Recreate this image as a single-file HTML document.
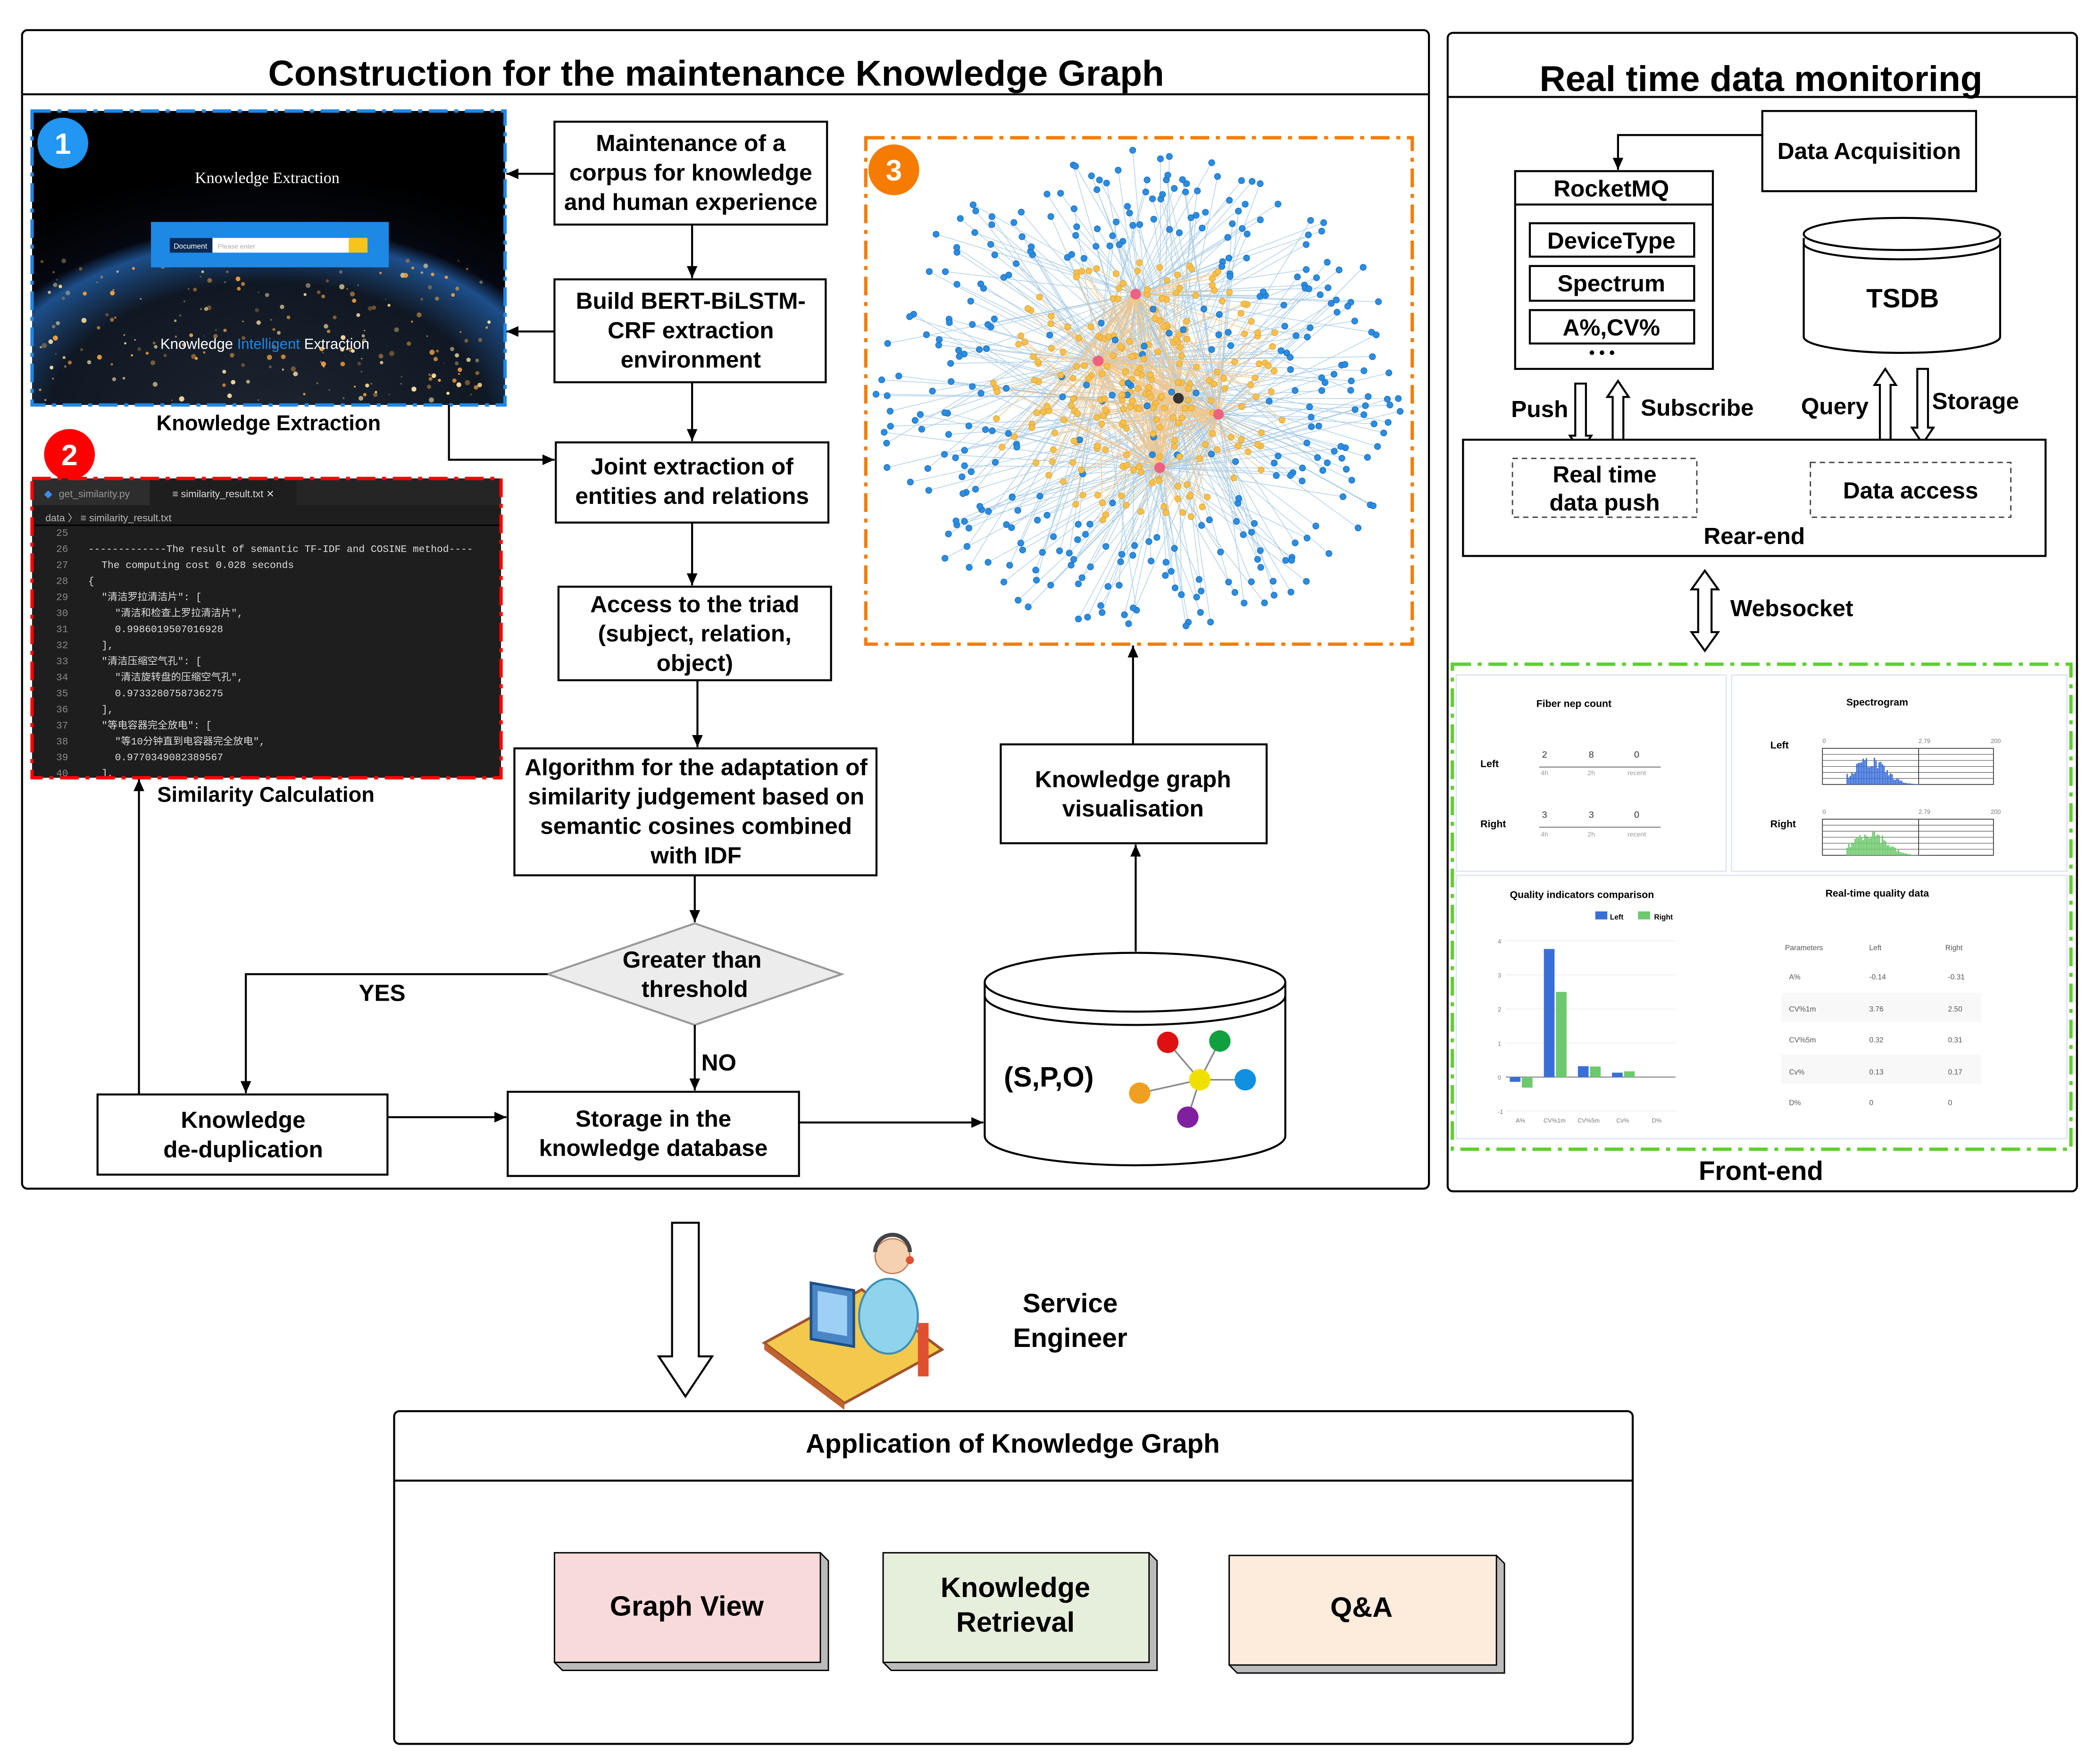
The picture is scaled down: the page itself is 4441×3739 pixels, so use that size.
<!DOCTYPE html>
<html><head><meta charset="utf-8"><style>
html,body{margin:0;padding:0;background:#fff}
svg{display:block}
text{font-family:"Liberation Sans",Arial,sans-serif}
.b{font-weight:bold}
.mono text{font-family:"Liberation Mono","Noto Sans CJK SC",monospace}
</style></head><body>
<svg id="s" xmlns="http://www.w3.org/2000/svg" width="4441" height="3739" viewBox="0 0 1568 1320">
<defs>
<marker id="ar" markerWidth="10" markerHeight="10" refX="9" refY="5" orient="auto" markerUnits="userSpaceOnUse"><path d="M0,1 L9,5 L0,9 Z" fill="#000"/></marker>
<radialGradient id="earth" cx="50%" cy="105%" r="85%"><stop offset="0" stop-color="#1c2430"/><stop offset="0.55" stop-color="#101824"/><stop offset="0.72" stop-color="#1d4f8a"/><stop offset="0.78" stop-color="#050810"/><stop offset="1" stop-color="#000"/></radialGradient>
</defs>
<rect width="1568" height="1320" fill="#fff"/>

<rect x="16.5" y="22.5" width="1053" height="867" rx="4" fill="none" stroke="#000" stroke-width="1.5"/>
<line x1="17" y1="70.5" x2="1069" y2="70.5" stroke="#000" stroke-width="1.5"/>
<text x="536" y="64" text-anchor="middle" class="b" font-size="27">Construction for the maintenance Knowledge Graph</text>

<rect x="1083.5" y="24.5" width="471" height="867" rx="4" fill="none" stroke="#000" stroke-width="1.5"/>
<line x1="1084" y1="72.5" x2="1554" y2="72.5" stroke="#000" stroke-width="1.5"/>
<text x="1318" y="68" text-anchor="middle" class="b" font-size="27">Real time data monitoring</text>

<rect x="24" y="83" width="354" height="220" fill="url(#earth)"/>
<g id="lights"></g>
<rect x="24" y="83" width="354" height="220" fill="none" stroke="#1e88e5" stroke-width="2.5" stroke-dasharray="14,5,3,5"/>
<text x="200" y="137" text-anchor="middle" fill="#fff" font-size="12" font-family="Liberation Serif,serif" style="font-family:'Liberation Serif',serif">Knowledge  Extraction</text>
<rect x="113" y="166" width="178" height="34" fill="#1e88e5"/>
<rect x="127" y="178" width="148" height="11" fill="#fff"/>
<rect x="127" y="178" width="32" height="11" fill="#0a2a55"/>
<text x="130" y="186" fill="#fff" font-size="5.5">Document</text>
<text x="163" y="186" fill="#aaa" font-size="5">Please enter</text>
<rect x="261" y="178" width="14" height="11" fill="#f5c518"/>
<text x="120" y="261" fill="#fff" font-size="11">Knowledge <tspan fill="#1e88e5">Intelligent</tspan> Extraction</text>
<circle cx="47" cy="107" r="19" fill="#2196f3"/>
<text x="47" y="115" text-anchor="middle" fill="#fff" font-size="22" class="b">1</text>
<text x="201" y="322" text-anchor="middle" class="b" font-size="16">Knowledge Extraction</text>

<circle cx="52" cy="340" r="19" fill="#f00"/>
<text x="52" y="348" text-anchor="middle" fill="#fff" font-size="22" class="b">2</text>
<rect x="24" y="358" width="351" height="224" fill="#1e1e1e"/>
<rect x="24" y="358" width="351" height="20" fill="#252526"/>
<rect x="24" y="358" width="88" height="20" fill="#2d2d2d"/>
<rect x="112" y="358" width="110" height="20" fill="#1e1e1e"/>
<text x="44" y="372" fill="#999" font-size="7.5">get_similarity.py</text>
<text x="33" y="372" fill="#3b8eea" font-size="8">◆</text>
<text x="129" y="372" fill="#ddd" font-size="7.5">≡ similarity_result.txt  ✕</text>
<text x="34" y="390" fill="#bbb" font-size="7.5">data 〉 ≡ similarity_result.txt</text>
<line x1="24" y1="393" x2="375" y2="393" stroke="#000" stroke-width="1"/>
<g class="mono" font-size="7.5" fill="#ddd">
<text x="42" y="401" fill="#888">25</text>
<text x="42" y="413" fill="#888">26</text><text x="66" y="413">-------------The result of semantic TF-IDF and COSINE method----</text>
<text x="42" y="425" fill="#888">27</text><text x="76" y="425">The computing cost 0.028 seconds</text>
<text x="42" y="437" fill="#888">28</text><text x="66" y="437">{</text>
<text x="42" y="449" fill="#888">29</text><text x="76" y="449">"清洁罗拉清洁片": [</text>
<text x="42" y="461" fill="#888">30</text><text x="86" y="461">"清洁和检查上罗拉清洁片",</text>
<text x="42" y="473" fill="#888">31</text><text x="86" y="473">0.9986019507016928</text>
<text x="42" y="485" fill="#888">32</text><text x="76" y="485">],</text>
<text x="42" y="497" fill="#888">33</text><text x="76" y="497">"清洁压缩空气孔": [</text>
<text x="42" y="509" fill="#888">34</text><text x="86" y="509">"清洁旋转盘的压缩空气孔",</text>
<text x="42" y="521" fill="#888">35</text><text x="86" y="521">0.9733280758736275</text>
<text x="42" y="533" fill="#888">36</text><text x="76" y="533">],</text>
<text x="42" y="545" fill="#888">37</text><text x="76" y="545">"等电容器完全放电": [</text>
<text x="42" y="557" fill="#888">38</text><text x="86" y="557">"等10分钟直到电容器完全放电",</text>
<text x="42" y="569" fill="#888">39</text><text x="86" y="569">0.9770349082389567</text>
<text x="42" y="581" fill="#888">40</text><text x="76" y="581">],</text>
</g>
<rect x="24" y="358" width="351" height="224" fill="none" stroke="#f00" stroke-width="2.5" stroke-dasharray="14,5,3,5"/>
<text x="199" y="600" text-anchor="middle" class="b" font-size="16">Similarity Calculation</text>

<g fill="#fff" stroke="#000" stroke-width="1.5">
<rect x="415" y="91" width="204" height="77"/>
<rect x="415" y="209" width="203" height="77"/>
<rect x="416" y="331" width="204" height="60"/>
<rect x="418" y="439" width="204" height="70"/>
<rect x="385" y="560" width="271" height="95"/>
<polygon points="410,729 520,691 630,729 520,767" fill="#ececec" stroke="#999"/>
<rect x="73" y="819" width="217" height="60"/>
<rect x="380" y="817" width="218" height="63"/>
<rect x="749" y="557" width="199" height="74"/>
</g>
<g class="b" font-size="17.5" text-anchor="middle">
<text x="517" y="113">Maintenance of a</text><text x="517" y="135">corpus for knowledge</text><text x="517" y="157">and human experience</text>
<text x="517" y="231">Build BERT-BiLSTM-</text><text x="517" y="253">CRF extraction</text><text x="517" y="275">environment</text>
<text x="518" y="355">Joint extraction of</text><text x="518" y="377">entities and relations</text>
<text x="520" y="458">Access to the triad</text><text x="520" y="480">(subject, relation,</text><text x="520" y="502">object)</text>
<text x="521" y="580">Algorithm for the adaptation of</text><text x="521" y="602">similarity judgement based on</text><text x="521" y="624">semantic cosines combined</text><text x="521" y="646">with IDF</text>
<text x="518" y="724">Greater than</text><text x="520" y="746">threshold</text>
<text x="182" y="844">Knowledge</text><text x="182" y="866">de-duplication</text>
<text x="489" y="843">Storage in the</text><text x="489" y="865">knowledge database</text>
<text x="848" y="589">Knowledge graph</text><text x="848" y="611">visualisation</text>
<text x="286" y="749">YES</text>
<text x="538" y="801">NO</text>
</g>

<g stroke="#000" stroke-width="1.5" fill="none" marker-end="url(#ar)">
<path d="M415,130 H379"/>
<path d="M415,248 H379"/>
<path d="M336,303 V344 H415"/>
<path d="M518,168 V208"/>
<path d="M518,286 V330"/>
<path d="M518,391 V438"/>
<path d="M522,509 V559"/>
<path d="M520,655 V690"/>
<path d="M410,729 H184 V818"/>
<path d="M520,767 V816"/>
<path d="M290,836 H379"/>
<path d="M598,840 L736,840"/>
<path d="M104,819 V583"/>
<path d="M850,712 V632"/>
<path d="M848,557 V483"/>
<path d="M1319,101 H1211 V127"/>
</g>

<path d="M737,735 V850 A112.5,22 0 0,0 962,850 V735" fill="#fff" stroke="#000" stroke-width="1.5"/>
<ellipse cx="849.5" cy="735" rx="112.5" ry="22" fill="#fff" stroke="#000" stroke-width="1.5"/>
<path d="M737,745 A112.5,22 0 0,0 962,745" fill="none" stroke="#000" stroke-width="1.5"/>
<text x="785" y="813" text-anchor="middle" class="b" font-size="21">(S,P,O)</text>
<g stroke="#888" stroke-width="1.2">
<line x1="874" y1="780" x2="898" y2="808"/><line x1="913" y1="779" x2="898" y2="808"/><line x1="932" y1="808" x2="898" y2="808"/><line x1="853" y1="818" x2="898" y2="808"/><line x1="889" y1="836" x2="898" y2="808"/>
</g>
<circle cx="874" cy="780" r="8" fill="#e01010"/><circle cx="913" cy="779" r="8" fill="#10a040"/><circle cx="898" cy="808" r="8" fill="#f0e000"/><circle cx="932" cy="808" r="8" fill="#1090e0"/><circle cx="853" cy="818" r="8" fill="#f0a020"/><circle cx="889" cy="836" r="8" fill="#8020a0"/>

<g id="graph"></g>
<rect x="648" y="103" width="409" height="379" fill="none" stroke="#f57c00" stroke-width="2.5" stroke-dasharray="14,5,3,5"/>
<circle cx="669" cy="127" r="19" fill="#f57c00"/>
<text x="669" y="135" text-anchor="middle" fill="#fff" font-size="22" class="b">3</text>

<rect x="1319" y="83" width="160" height="60" fill="#fff" stroke="#000" stroke-width="1.5"/>
<text x="1399" y="119" text-anchor="middle" class="b" font-size="17.5">Data Acquisition</text>
<rect x="1134" y="128" width="148" height="148" fill="#fff" stroke="#000" stroke-width="1.5"/>
<line x1="1134" y1="153" x2="1282" y2="153" stroke="#000" stroke-width="1.5"/>
<text x="1206" y="147" text-anchor="middle" class="b" font-size="17.5">RocketMQ</text>
<g fill="#fff" stroke="#000" stroke-width="1.5"><rect x="1145" y="167" width="123" height="25"/><rect x="1145" y="199" width="123" height="26"/><rect x="1145" y="232" width="123" height="25"/></g>
<g class="b" font-size="17.5" text-anchor="middle"><text x="1206" y="186">DeviceType</text><text x="1206" y="218">Spectrum</text><text x="1206" y="251">A%,CV%</text></g>
<text x="1199" y="268" text-anchor="middle" font-size="12" class="b">• • •</text>
<path d="M1350,178 V252 A73.5,12 0 0,0 1497,252 V178" fill="#fff" stroke="#000" stroke-width="1.5"/>
<ellipse cx="1423.5" cy="175" rx="73.5" ry="12" fill="#fff" stroke="#000" stroke-width="1.5"/>
<path d="M1350,182 A73.5,12 0 0,0 1497,182" fill="none" stroke="#000" stroke-width="1.5"/>
<text x="1424" y="230" text-anchor="middle" class="b" font-size="20">TSDB</text>
<g id="harrows" fill="#fff" stroke="#000" stroke-width="1.5"></g>
<g class="b" font-size="17.5"><text x="1131" y="312">Push</text><text x="1228" y="311">Subscribe</text><text x="1348" y="310">Query</text><text x="1446" y="306">Storage</text><text x="1295" y="461">Websocket</text></g>
<rect x="1095" y="329" width="436" height="87" fill="#fff" stroke="#000" stroke-width="1.5"/>
<rect x="1132" y="343" width="138" height="44" fill="none" stroke="#444" stroke-width="1" stroke-dasharray="4,3"/>
<rect x="1355" y="346" width="150" height="41" fill="none" stroke="#444" stroke-width="1" stroke-dasharray="4,3"/>
<g class="b" font-size="17.5" text-anchor="middle"><text x="1201" y="361">Real time</text><text x="1201" y="382">data push</text><text x="1430" y="373">Data access</text><text x="1313" y="407">Rear-end</text><text x="1318" y="883" font-size="20">Front-end</text></g>

<rect x="1087" y="497" width="463" height="363" fill="#fff" stroke="#5fcf2f" stroke-width="2.5" stroke-dasharray="14,5,3,5"/>
<g fill="#fff" stroke="#dde6f2" stroke-width="1"><rect x="1090" y="505" width="202" height="147"/><rect x="1296" y="505" width="251" height="147"/><rect x="1090" y="655" width="457" height="197"/></g>
<g font-size="7.5" class="b" text-anchor="middle"><text x="1178" y="529">Fiber nep count</text><text x="1405" y="528">Spectrogram</text><text x="1184" y="672">Quality indicators comparison</text><text x="1405" y="671">Real-time quality data</text></g>
<g font-size="7.5" class="b"><text x="1108" y="574">Left</text><text x="1108" y="619">Right</text><text x="1325" y="560">Left</text><text x="1325" y="619">Right</text></g>
<g stroke="#999" stroke-width="1"><line x1="1152" y1="574" x2="1243" y2="574"/><line x1="1152" y1="619" x2="1243" y2="619"/></g>
<g font-size="7" text-anchor="middle" fill="#333"><text x="1156" y="567">2</text><text x="1191" y="567">8</text><text x="1225" y="567">0</text><text x="1156" y="612">3</text><text x="1191" y="612">3</text><text x="1225" y="612">0</text></g>
<g font-size="5" text-anchor="middle" fill="#999"><text x="1156" y="580">4h</text><text x="1191" y="580">2h</text><text x="1225" y="580">recent</text><text x="1156" y="626">4h</text><text x="1191" y="626">2h</text><text x="1225" y="626">recent</text></g>
<g id="spec"></g>
<g id="bars"></g>
<rect x="1333" y="743" width="150" height="22" fill="#f3f3f3" opacity="0.6"/><rect x="1333" y="789" width="150" height="22" fill="#f3f3f3" opacity="0.6"/>
<g font-size="5.5" fill="#555"><text x="1336" y="711">Parameters</text><text x="1399" y="711">Left</text><text x="1456" y="711">Right</text>
<text x="1339" y="733">A%</text><text x="1399" y="733">-0.14</text><text x="1458" y="733">-0.31</text>
<text x="1339" y="757">CV%1m</text><text x="1399" y="757">3.76</text><text x="1458" y="757">2.50</text>
<text x="1339" y="780">CV%5m</text><text x="1399" y="780">0.32</text><text x="1458" y="780">0.31</text>
<text x="1339" y="804">Cv%</text><text x="1399" y="804">0.13</text><text x="1458" y="804">0.17</text>
<text x="1339" y="827">D%</text><text x="1399" y="827">0</text><text x="1458" y="827">0</text></g>
<rect x="1194" y="682" width="9" height="6" fill="#3a6fd8"/><text x="1205" y="688" font-size="5.5" class="b">Left</text>
<rect x="1226" y="682" width="9" height="6" fill="#6dc96d"/><text x="1238" y="688" font-size="5.5" class="b">Right</text>

<g id="bigarrow" fill="#fff" stroke="#000" stroke-width="1.5"></g>
<polygon points="572,1005 645,965 705,1010 632,1050" fill="#f2c94c" stroke="#a0522d" stroke-width="2"/>
<polygon points="572,1005 632,1050 632,1055 572,1010" fill="#c0622d"/>
<rect x="607" y="960" width="32" height="42" fill="#4a86c5" stroke="#1d4f8a" stroke-width="2" transform="skewY(10)" transform-origin="607 960"/>
<rect x="612" y="966" width="22" height="30" fill="#9ed0f5" transform="skewY(10)" transform-origin="612 966"/>
<ellipse cx="665" cy="985" rx="22" ry="28" fill="#8fd3ec" stroke="#3a8fb7" stroke-width="1.5"/>
<circle cx="668" cy="940" r="13" fill="#f6d1b0" stroke="#c08060" stroke-width="1"/>
<path d="M655,937 A13,13 0 0,1 681,937" fill="none" stroke="#444" stroke-width="3"/>
<circle cx="681" cy="943" r="3" fill="#e05030"/>
<rect x="687" y="990" width="8" height="40" fill="#e05030"/>
<text x="801" y="982" text-anchor="middle" class="b" font-size="20">Service</text>
<text x="801" y="1008" text-anchor="middle" class="b" font-size="20">Engineer</text>

<rect x="295" y="1056" width="927" height="249" rx="4" fill="#fff" stroke="#000" stroke-width="1.5"/>
<line x1="295" y1="1108" x2="1222" y2="1108" stroke="#000" stroke-width="1.5"/>
<text x="758" y="1087" text-anchor="middle" class="b" font-size="20">Application of Knowledge Graph</text>
<g stroke="#000" stroke-width="1">
<polygon points="415,1162 614,1162 620,1168 620,1250 421,1250 415,1244" fill="#bbb"/><rect x="415" y="1162" width="199" height="82" fill="#f8dada"/>
<polygon points="661,1162 860,1162 866,1168 866,1250 667,1250 661,1244" fill="#bbb"/><rect x="661" y="1162" width="199" height="82" fill="#e6efdc"/>
<polygon points="920,1164 1120,1164 1126,1170 1126,1252 926,1252 920,1246" fill="#bbb"/><rect x="920" y="1164" width="200" height="82" fill="#fdebdc"/>
</g>
<g class="b" font-size="21" text-anchor="middle"><text x="514" y="1209">Graph View</text><text x="760" y="1195">Knowledge</text><text x="760" y="1221">Retrieval</text><text x="1019" y="1210">Q&amp;A</text></g>

<script>
var NS="http://www.w3.org/2000/svg";
function el(p,t,a){var e=document.createElementNS(NS,t);for(var k in a)e.setAttribute(k,a[k]);p.appendChild(e);return e;}
var seed=7;function r(){seed=(seed*16807)%2147483647;return (seed-1)/2147483646;}
var L=document.getElementById('lights');
for(var i=0;i<220;i++){var x=30+r()*340,y=195+r()*105;if(y<300)el(L,'circle',{cx:x,cy:y,r:0.5+r()*1.5,fill:r()<0.6?'#f0a040':'#ffe0a0',opacity:0.3+r()*0.7});}
var G=document.getElementById('graph');
var hubs=[[822,270],[868,350],[912,310],[882,298],[850,220]];
var eg=el(G,'g',{stroke:'#7fb3d9','stroke-width':0.45,opacity:0.7});
var og=el(G,'g',{stroke:'#f3c78a','stroke-width':0.5});
var ng=el(G,'g',{});
var cx=852,cy=292;
for(var i=0;i<620;i++){
 var a=r()*Math.PI*2, d=Math.pow(r(),0.75)*185;
 var x=cx+Math.cos(a)*d*1.08, y=cy+Math.sin(a)*d;
 if(x<655||x>1050||y<112||y>478)continue;
 var h=hubs[Math.floor(r()*hubs.length)];
 var orange=d<105&&r()<0.85;
 el(orange?og:eg,'line',{x1:h[0],y1:h[1],x2:x,y2:y});
 el(ng,'circle',{cx:x,cy:y,r:2.3,fill:orange?'#f7c04a':'#2a8ee0',stroke:orange?'#e0a030':'#1565c0','stroke-width':0.4});
}
hubs.forEach(function(h,i){el(ng,'circle',{cx:h[0],cy:h[1],r:4,fill:i==3?'#333':'#f06080'});});
function ha(g,x,y1,y2,w,H,hl,dbl){var d=y2>y1?1:-1,p;
 if(!dbl){p=[[x-w,y1],[x+w,y1],[x+w,y2-d*hl],[x+H,y2-d*hl],[x,y2],[x-H,y2-d*hl],[x-w,y2-d*hl]];}
 else{p=[[x,y1],[x+H,y1+hl],[x+w,y1+hl],[x+w,y2-hl],[x+H,y2-hl],[x,y2],[x-H,y2-hl],[x-w,y2-hl],[x-w,y1+hl],[x-H,y1+hl]];}
 el(g,'polygon',{points:p.map(function(q){return q.join(',')}).join(' ')});}
var A=document.getElementById('harrows');
ha(A,1183,287,338,4,8,12);ha(A,1211,338,285,4,8,12);ha(A,1411,334,276,4,8,12);ha(A,1439,276,332,4,8,12);
ha(A,1276,427,487,5,10,14,true);
ha(document.getElementById('bigarrow'),513,915,1045,10,20,30);
var S=document.getElementById('spec');
[[560,'#3a6fd8'],[613,'#6dc96d']].forEach(function(c){var top=c[0],bot=top+27;
 el(S,'rect',{x:1364,y:top,width:128,height:27,fill:'none',stroke:'#333','stroke-width':0.6});
 for(var k=1;k<6;k++)el(S,'line',{x1:1364,x2:1492,y1:top+k*4.5,y2:top+k*4.5,stroke:'#555','stroke-width':0.4});
 el(S,'line',{x1:1436,x2:1436,y1:top,y2:bot,stroke:'#333','stroke-width':0.6});
 for(var k=0;k<60;k++){var x=1382+k*1.2;var hh=Math.max(0,20*Math.exp(-Math.pow((k-14)/14,2))*(0.6+r()*0.5));if(k>45)hh*=0.3;el(S,'rect',{x:x,y:bot-hh,width:1,height:hh,fill:c[1]});}
 var t=['0','2.79','200'];[1364,1436,1490].forEach(function(x,j){var e=el(S,'text',{x:x,y:top-4,'font-size':4.5,fill:'#777'});e.textContent=t[j];});
});
var B=document.getElementById('bars');
for(var k=0;k<=5;k++){var y=704+k*25.5;el(B,'line',{x1:1127,x2:1254,y1:y,y2:y,stroke:'#eee','stroke-width':0.6});var t=el(B,'text',{x:1121,y:y+2,'font-size':4.5,fill:'#777'});t.textContent=String(4-k);}
el(B,'line',{x1:1127,x2:1254,y1:806,y2:806,stroke:'#888','stroke-width':0.8});
var vals=[[-0.14,-0.31],[3.76,2.5],[0.32,0.31],[0.13,0.17],[0,0]];
vals.forEach(function(v,i){var x=1130+i*25.5;
 [0,1].forEach(function(j){var h=v[j]*25.5;el(B,'rect',{x:x+j*9,y:h>0?806-h:806,width:8,height:Math.abs(h),fill:j?'#6dc96d':'#3a6fd8'});});
 var t=el(B,'text',{x:x+8,y:840,'font-size':4.5,fill:'#777','text-anchor':'middle'});t.textContent=['A%','CV%1m','CV%5m','Cv%','D%'][i];});
</script>
</svg>
</body></html>
